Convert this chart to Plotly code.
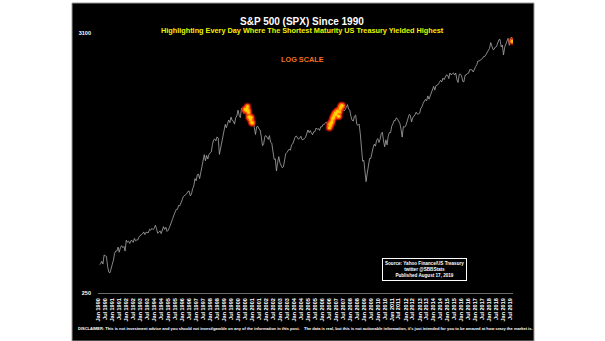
import plotly.graph_objects as go
import pandas as pd

# ---------------- data ----------------
spx_monthly_close = [
    # 1990
    329.08, 331.89, 339.94, 330.80, 361.23, 358.02, 356.15, 322.56, 306.05, 304.00, 322.22, 330.22,
    # 1991
    343.93, 367.07, 375.22, 375.34, 389.83, 371.16, 387.81, 395.43, 387.86, 392.46, 375.22, 417.09,
    # 1992
    408.79, 412.70, 403.69, 414.95, 415.35, 408.14, 424.21, 414.03, 417.80, 418.68, 431.35, 435.71,
    # 1993
    438.78, 443.38, 451.67, 440.19, 450.19, 450.53, 448.13, 463.56, 458.93, 467.83, 461.79, 466.45,
    # 1994
    481.61, 467.14, 445.77, 450.91, 456.50, 444.27, 458.26, 475.49, 462.69, 472.35, 453.69, 459.27,
    # 1995
    470.42, 487.39, 500.71, 514.71, 533.40, 544.75, 562.06, 561.88, 584.41, 581.50, 605.37, 615.93,
    # 1996
    636.02, 640.43, 645.50, 654.17, 669.12, 670.63, 639.95, 651.99, 687.31, 705.27, 757.02, 740.74,
    # 1997
    786.16, 790.82, 757.12, 801.34, 848.28, 885.14, 954.31, 899.47, 947.28, 914.62, 955.40, 970.43,
    # 1998
    980.28, 1049.34, 1101.75, 1111.75, 1090.82, 1133.84, 1120.67, 957.28, 1017.01, 1098.67, 1163.63, 1229.23,
    # 1999
    1279.64, 1238.33, 1286.37, 1335.18, 1301.84, 1372.71, 1328.72, 1320.41, 1282.71, 1362.93, 1388.91, 1469.25,
    # 2000
    1394.46, 1366.42, 1498.58, 1452.43, 1420.60, 1454.60, 1430.83, 1517.68, 1436.51, 1429.40, 1314.95, 1320.28,
    # 2001
    1366.01, 1239.94, 1160.33, 1249.46, 1255.82, 1224.38, 1211.23, 1133.58, 1040.94, 1059.78, 1139.45, 1148.08,
    # 2002
    1130.20, 1106.73, 1147.39, 1076.92, 1067.14, 989.82, 911.62, 916.07, 815.28, 885.76, 936.31, 879.82,
    # 2003
    855.70, 841.15, 848.18, 916.92, 963.59, 974.50, 990.31, 1008.01, 995.97, 1050.71, 1058.20, 1111.92,
    # 2004
    1131.13, 1144.94, 1126.21, 1107.30, 1120.68, 1140.84, 1101.72, 1104.24, 1114.58, 1130.20, 1173.82, 1211.92,
    # 2005
    1181.27, 1203.60, 1180.59, 1156.85, 1191.50, 1191.33, 1234.18, 1220.33, 1228.81, 1207.01, 1249.48, 1248.29,
    # 2006
    1280.08, 1280.66, 1294.83, 1310.61, 1270.09, 1270.20, 1276.66, 1303.82, 1335.85, 1377.94, 1400.63, 1418.30,
    # 2007
    1438.24, 1406.82, 1420.86, 1482.37, 1530.62, 1503.35, 1455.27, 1473.99, 1526.75, 1549.38, 1481.14, 1468.36,
    # 2008
    1378.55, 1330.63, 1322.70, 1385.59, 1400.38, 1280.00, 1267.38, 1282.83, 1166.36, 968.75, 896.24, 903.25,
    # 2009
    825.88, 735.09, 797.87, 872.81, 919.14, 919.32, 987.48, 1020.62, 1057.08, 1036.19, 1095.63, 1115.10,
    # 2010
    1073.87, 1104.49, 1169.43, 1186.69, 1089.41, 1030.71, 1101.60, 1049.33, 1141.20, 1183.26, 1180.55, 1257.64,
    # 2011
    1286.12, 1327.22, 1325.83, 1363.61, 1345.20, 1320.64, 1292.28, 1218.89, 1131.42, 1253.30, 1246.96, 1257.60,
    # 2012
    1312.41, 1365.68, 1408.47, 1397.91, 1310.33, 1362.16, 1379.32, 1406.58, 1440.67, 1412.16, 1416.18, 1426.19,
    # 2013
    1498.11, 1514.68, 1569.19, 1597.57, 1630.74, 1606.28, 1685.73, 1632.97, 1681.55, 1756.54, 1805.81, 1848.36,
    # 2014
    1782.59, 1859.45, 1872.34, 1883.95, 1923.57, 1960.23, 1930.67, 2003.37, 1972.29, 2018.05, 2067.56, 2058.90,
    # 2015
    1994.99, 2104.50, 2067.89, 2085.51, 2107.39, 2063.11, 2103.84, 1972.18, 1920.03, 2079.36, 2080.41, 2043.94,
    # 2016
    1940.24, 1932.23, 2059.74, 2065.30, 2096.95, 2098.86, 2173.60, 2170.95, 2168.27, 2126.15, 2198.81, 2238.83,
    # 2017
    2278.87, 2363.64, 2362.72, 2384.20, 2411.80, 2423.41, 2470.30, 2471.65, 2519.36, 2575.26, 2647.58, 2673.61,
    # 2018
    2823.81, 2713.83, 2640.87, 2648.05, 2705.27, 2718.37, 2816.29, 2901.52, 2913.98, 2711.74, 2760.17, 2506.85,
    # 2019
    2704.10, 2784.49, 2834.40, 2945.83, 2752.06, 2941.76, 2980.38,
]
spx_start_date = "1990-01-31"
spx_last_date = "2019-08-16"
spx_last_close = 2888.68

inverted_dates = [
    "2000-07-07", "2000-07-21", "2000-08-04", "2000-08-18", "2000-09-01", "2000-09-15",
    "2000-09-29", "2000-10-13", "2000-10-27", "2000-11-10", "2000-11-24", "2000-12-08",
    "2000-12-22", "2001-01-05",
    "2006-07-14", "2006-07-28", "2006-08-11", "2006-08-25", "2006-09-08", "2006-09-22",
    "2006-10-06", "2006-10-20", "2006-11-03", "2006-11-17", "2006-12-01", "2006-12-15",
    "2007-01-05", "2007-01-19", "2007-02-02", "2007-02-16", "2007-03-02", "2007-03-16",
    "2007-04-05", "2007-04-20", "2007-05-04", "2007-05-18", "2007-06-01", "2007-06-15",
    "2019-08-16",
]
inverted_values = [
    1478, 1480, 1462, 1491, 1520, 1466,
    1436, 1374, 1379, 1365, 1341, 1369,
    1305, 1298,
    1237, 1278, 1266, 1295, 1299, 1315,
    1349, 1368, 1364, 1401, 1397, 1427,
    1409, 1431, 1449, 1456, 1388, 1386,
    1443, 1485, 1505, 1523, 1536, 1533,
    2860,
]

tick_years = list(range(1990, 2020))
tick_months = [("Jan", "01"), ("Jul", "07")]
y_tick_values = [250, 3100]
y_tick_text = ["250", "3100"]

# ---------------- build ----------------
spx_dates = list(pd.date_range(spx_start_date, periods=len(spx_monthly_close), freq="ME").strftime("%Y-%m-%d"))
spx_dates.append(spx_last_date)
spx_values = spx_monthly_close + [spx_last_close]

tickvals, ticktext = [], []
for yr in tick_years:
    for name, mm in tick_months:
        tickvals.append(f"{yr}-{mm}-01")
        ticktext.append(f"{name} {yr}")

W, H = 605, 341
ML, MR, MT, MB = 98, 92, 33, 48
PW, PH = W - ML - MR, H - MT - MB


def px(x):
    return (x - ML) / PW


def py(y):
    return (H - MB - y) / PH


FONT = "Liberation Sans"

fig = go.Figure()
fig.add_trace(go.Scatter(
    x=spx_dates, y=spx_values, mode="lines",
    line=dict(color="#a8a8a8", width=0.8), hoverinfo="skip", showlegend=False,
))
for size, color, op in [(8, "#e01010", 0.5), (5.5, "#ff5a00", 0.85), (3, "#ffd000", 0.95)]:
    fig.add_trace(go.Scatter(
        x=inverted_dates, y=inverted_values, mode="markers",
        marker=dict(size=size, color=color, opacity=op, line=dict(width=0)),
        hoverinfo="skip", showlegend=False,
    ))

fig.update_layout(
    width=W, height=H,
    margin=dict(l=ML, r=MR, t=MT, b=MB, pad=0),
    paper_bgcolor="white", plot_bgcolor="black",
    font=dict(family=FONT, color="white"),
    xaxis=dict(
        type="date", range=["1989-12-22", "2019-09-05"],
        tickmode="array", tickvals=tickvals, ticktext=ticktext,
        tickangle=-90, tickfont=dict(size=5.5, color="white", weight="bold"),
        showgrid=False, zeroline=False, showline=True, linecolor="#6a6a6a", linewidth=1,
        ticks="", ticklabelstandoff=2,
    ),
    yaxis=dict(
        type="log", range=[2.39794, 3.49136],
        tickmode="array", tickvals=y_tick_values, ticktext=y_tick_text,
        tickfont=dict(size=5.5, color="white", weight="bold"),
        showgrid=False, zeroline=False, showline=False, ticks="", ticklabelstandoff=6,
    ),
    shapes=[dict(
        type="rect", xref="paper", yref="paper", layer="below",
        x0=px(72), x1=px(534), y0=py(341), y1=py(3),
        fillcolor="black", line=dict(color="#9a9a9a", width=1),
    )],
    annotations=[
        dict(text="S&P 500 (SPX) Since 1990", x=px(302), y=py(14), xref="paper", yref="paper",
             showarrow=False, font=dict(size=10, color="white", weight="bold")),
        dict(text="Highlighting Every Day Where The Shortest Maturity US Treasury Yielded Highest",
             x=px(302), y=py(24), xref="paper", yref="paper", showarrow=False,
             font=dict(size=7.3, color="#f2f200", weight="bold")),
        dict(text="LOG SCALE", x=px(302), y=py(53), xref="paper", yref="paper", showarrow=False,
             font=dict(size=7.3, color="#f07020", weight="bold")),
        dict(text="Source: Yahoo Finance/US Treasury<br>twitter @SBBStats<br>Published August 17, 2019",
             x=px(466.5), y=py(280.5), xref="paper", yref="paper", showarrow=False,
             font=dict(size=4.6, color="white", weight="bold"), align="center",
             bordercolor="white", borderwidth=1, borderpad=2, bgcolor="black"),
        dict(text="DISCLAIMER: This is not investment advice and you should not invest/gamble on any of the "
                  "information in this post.    The data is real, but this is not actionable information, "
                  "it's just intended for you to be amazed at how crazy the market is.",
             x=px(76), y=py(333), xref="paper", yref="paper", xanchor="left", showarrow=False,
             font=dict(size=4.0, color="white", weight="bold")),
    ],
)

fig.write_html("out.html")
